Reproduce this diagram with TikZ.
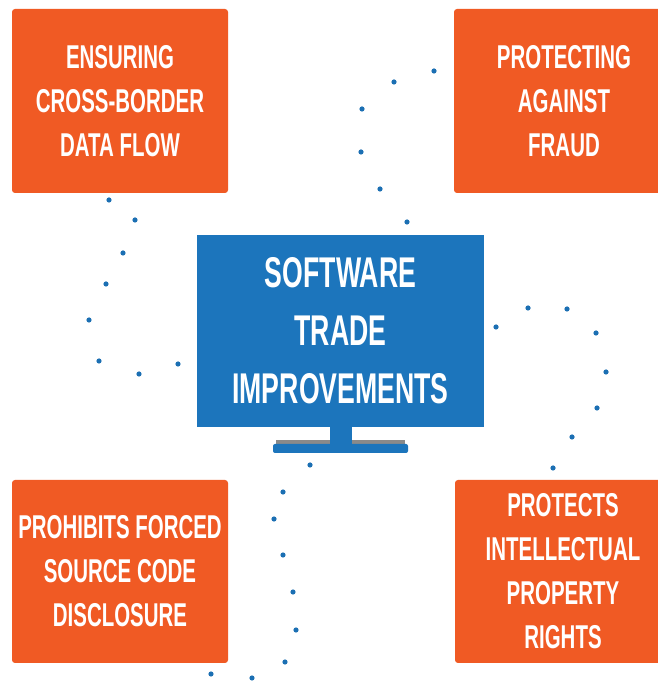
\documentclass[tikz,border=0pt]{standalone}
\usepackage{fontspec}
\newfontfamily\condfont[FakeStretch=0.62]{Liberation Sans}
\definecolor{boxorange}{HTML}{F05A24}
\definecolor{screenblue}{HTML}{1C75BC}
\definecolor{dotblue}{HTML}{1B6FB3}
\definecolor{standgray}{HTML}{8A8A8A}
\begin{document}
\begin{tikzpicture}[x=1pt,y=1pt,
  orangebox/.style={fill=boxorange, draw=none, rounded corners=3pt, text=white,
    align=center, inner sep=0pt, font=\condfont\bfseries\fontsize{33}{44}\selectfont},
  screenbox/.style={fill=screenblue, draw=none, text=white, align=center, inner sep=0pt,
    font=\condfont\bfseries\fontsize{43}{58}\selectfont},
  dotstyle/.style={fill=dotblue, draw=none}]
\clip (0,0) rectangle (658,683);
\fill[white] (0,0) rectangle (658,683);

% monitor stand
\fill[screenblue] (330,256) rectangle (352,236);
\fill[standgray] (276,243) rectangle (330,238);
\fill[standgray] (352,243) rectangle (405,238);
\fill[screenblue, rounded corners=2pt] (273,239) rectangle (408,230);

% screen
\node[screenbox, minimum width=287pt, minimum height=192pt] (screen) at (340.5,352)
  {SOFTWARE\\TRADE\\IMPROVEMENTS};

% boxes
\node[orangebox, minimum width=216pt, minimum height=184pt] (tl) at (120,582)
  {ENSURING\\CROSS-BORDER\\DATA FLOW};
\node[orangebox, minimum width=220pt, minimum height=184pt] (tr) at (564,582)
  {PROTECTING\\AGAINST\\FRAUD};
\node[orangebox, minimum width=216pt, minimum height=183pt] (bl) at (120,111.5)
  {PROHIBITS FORCED\\SOURCE CODE\\DISCLOSURE};
\node[orangebox, minimum width=216pt, minimum height=183pt] (br) at (563,111.5)
  {PROTECTS\\INTELLECTUAL\\PROPERTY\\RIGHTS};

% dots (pixel coordinates, y measured from top)
\foreach \px/\py in {109/200, 135/220, 123/253, 106/284, 89/320, 99/361, 139/374, 178/364,
  434/71, 394/82, 362/109, 361/152, 380/189, 407/222,
  496/327, 528/308, 567/309, 596/333, 606/372, 597/408, 572/437, 553/468,
  310/465, 283/492, 274/519, 283/555, 293/592, 296/630, 285/662, 252/678, 211/674}
  \fill[dotstyle] (\px,683-\py) circle (2.6);
\end{tikzpicture}
\end{document}
